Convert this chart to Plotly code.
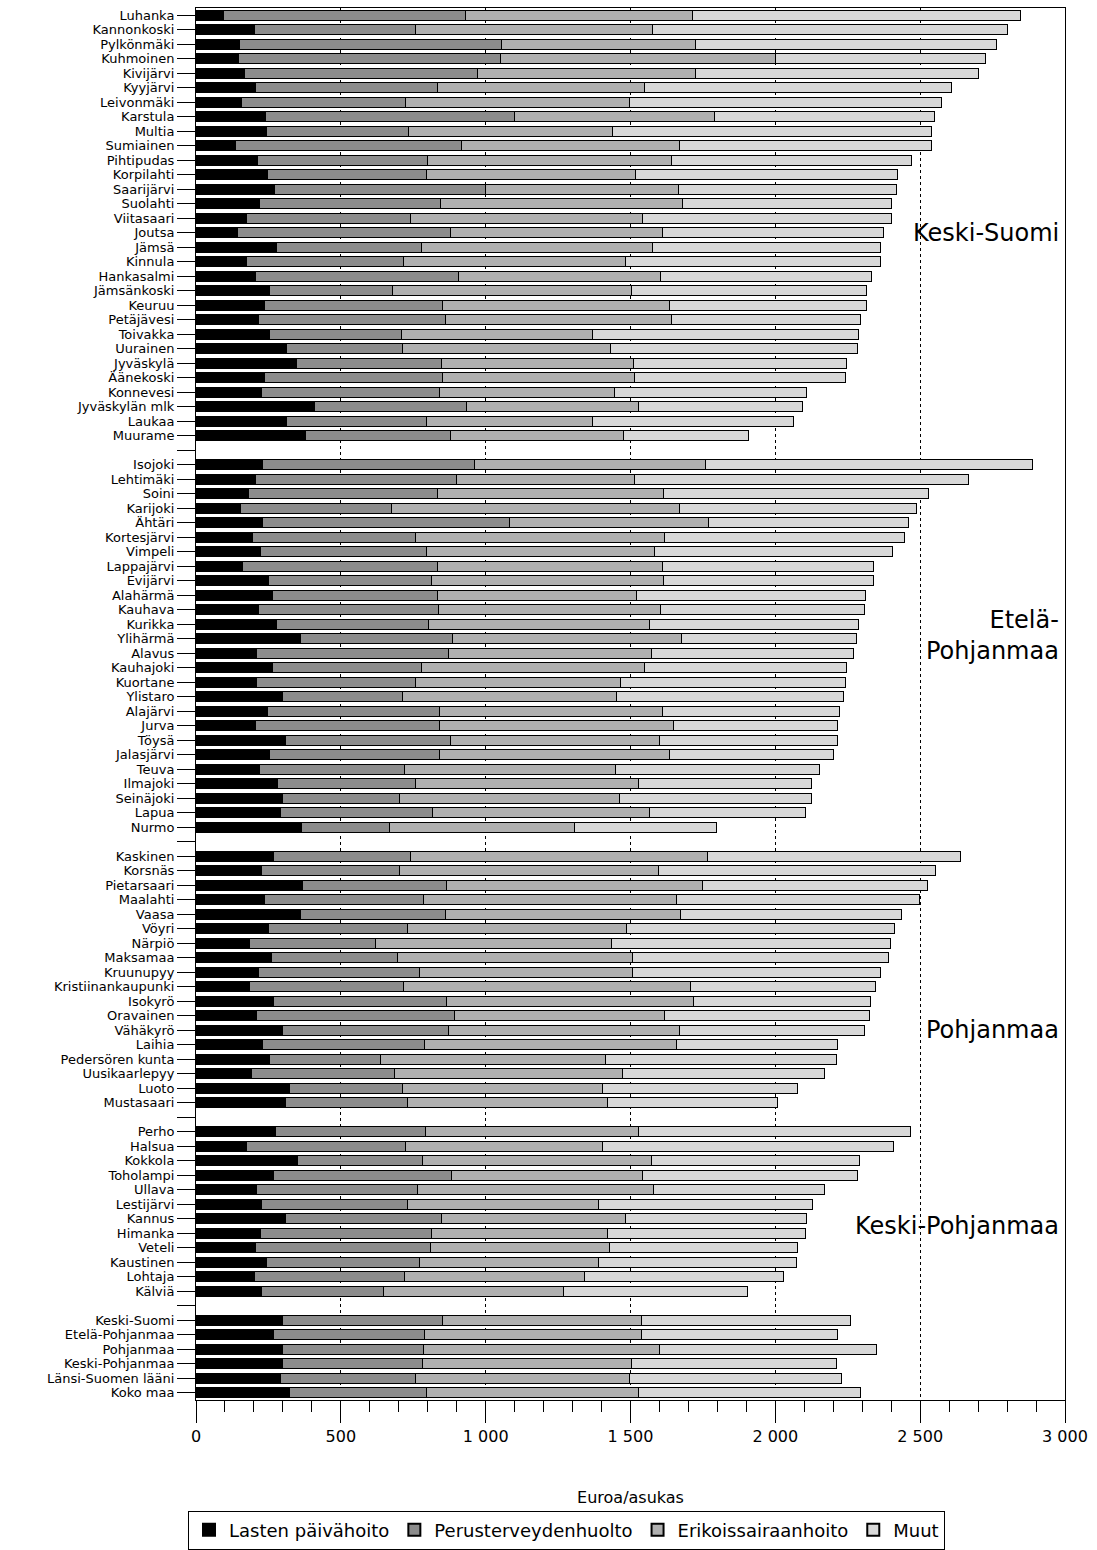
import plotly.graph_objects as go

# ---- data (Euroa/asukas) ----
municipalities = [
    "Luhanka", "Kannonkoski", "Pylkönmäki", "Kuhmoinen", "Kivijärvi", "Kyyjärvi", "Leivonmäki",
    "Karstula", "Multia", "Sumiainen", "Pihtipudas", "Korpilahti", "Saarijärvi", "Suolahti",
    "Viitasaari", "Joutsa", "Jämsä", "Kinnula", "Hankasalmi", "Jämsänkoski", "Keuruu",
    "Petäjävesi", "Toivakka", "Uurainen", "Jyväskylä", "Äänekoski", "Konnevesi",
    "Jyväskylän mlk", "Laukaa", "Muurame",
    " ",
    "Isojoki", "Lehtimäki", "Soini", "Karijoki", "Ähtäri", "Kortesjärvi", "Vimpeli", "Lappajärvi",
    "Evijärvi", "Alahärmä", "Kauhava", "Kurikka", "Ylihärmä", "Alavus", "Kauhajoki", "Kuortane",
    "Ylistaro", "Alajärvi", "Jurva", "Töysä", "Jalasjärvi", "Teuva", "Ilmajoki", "Seinäjoki",
    "Lapua", "Nurmo",
    "  ",
    "Kaskinen", "Korsnäs", "Pietarsaari", "Maalahti", "Vaasa", "Vöyri", "Närpiö", "Maksamaa",
    "Kruunupyy", "Kristiinankaupunki", "Isokyrö", "Oravainen", "Vähäkyrö", "Laihia",
    "Pedersören kunta", "Uusikaarlepyy", "Luoto", "Mustasaari",
    "   ",
    "Perho", "Halsua", "Kokkola", "Toholampi", "Ullava", "Lestijärvi", "Kannus", "Himanka",
    "Veteli", "Kaustinen", "Lohtaja", "Kälviä",
    "    ",
    "Keski-Suomi", "Etelä-Pohjanmaa", "Pohjanmaa", "Keski-Pohjanmaa", "Länsi-Suomen lääni", "Koko maa",
]

lasten_paivahoito = [
    95, 202, 150, 145, 166, 206, 156, 241, 243, 136, 212, 247, 271, 219, 176,
    142, 277, 176, 206, 253, 237, 217, 253, 312, 348, 237, 227, 409, 312, 378,
    None,
    231, 206, 182, 154, 231, 196, 223, 160, 251, 263, 217, 277, 360, 210, 263,
    210, 298, 247, 206, 308, 253, 219, 283, 298, 291, 364,
    None,
    267, 227, 368, 237, 360, 249, 186, 261, 215, 186, 267, 210, 300, 231, 253, 190, 324, 308,
    None,
    273, 176, 352, 267, 210, 227, 308, 221, 206, 243, 202, 227,
    None,
    300, 267, 298, 298, 291, 324,
]

perusterveydenhuolto = [
    834, 555, 904, 905, 806, 628, 567, 858, 492, 779, 587, 550, 729, 625, 565,
    738, 500, 540, 701, 427, 613, 645, 455, 400, 498, 613, 615, 526, 485, 500,
    None,
    730, 695, 652, 522, 850, 563, 572, 674, 563, 569, 619, 526, 526, 660, 514,
    547, 414, 595, 634, 572, 587, 502, 476, 406, 527, 304,
    None,
    472, 475, 496, 548, 500, 480, 433, 435, 556, 530, 597, 683, 572, 558, 385, 496, 388, 421,
    None,
    520, 547, 431, 615, 553, 502, 540, 593, 604, 528, 519, 421,
    None,
    550, 522, 487, 483, 466, 473,
]

erikoissairaanhoito = [
    785, 820, 670, 950, 752, 714, 773, 690, 702, 755, 844, 721, 664, 836, 801,
    729, 800, 766, 696, 822, 785, 781, 662, 719, 666, 664, 603, 593, 573, 599,
    None,
    798, 613, 779, 994, 688, 860, 788, 775, 801, 690, 767, 764, 790, 703, 771,
    710, 741, 767, 810, 719, 793, 726, 769, 759, 749, 637,
    None,
    1026, 895, 885, 873, 814, 757, 816, 810, 737, 990, 854, 724, 798, 871, 775, 787, 693, 692,
    None,
    735, 682, 790, 660, 816, 662, 634, 607, 617, 620, 619, 621,
    None,
    688, 749, 814, 721, 741, 729,
]

muut = [
    1134, 1224, 1039, 724, 978, 1059, 1079, 759, 1103, 870, 828, 903, 753, 720, 858,
    763, 785, 880, 729, 813, 680, 652, 917, 854, 733, 727, 664, 565, 692, 430,
    None,
    1129, 1154, 917, 817, 692, 828, 821, 729, 725, 789, 704, 720, 605, 698, 699,
    774, 784, 613, 564, 615, 567, 707, 597, 662, 538, 492,
    None,
    874, 957, 777, 840, 763, 927, 963, 886, 856, 640, 612, 707, 639, 556, 799, 697, 672, 585,
    None,
    939, 1004, 716, 743, 591, 738, 625, 682, 650, 682, 688, 634,
    None,
    723, 676, 749, 708, 732, 769,
]

series_names = ["Lasten päivähoito", "Perusterveydenhuolto", "Erikoissairaanhoito", "Muut"]
series_values = [lasten_paivahoito, perusterveydenhuolto, erikoissairaanhoito, muut]
series_colors = ["#000000", "#8c8c8c", "#b0b0b0", "#d8d8d8"]

region_labels = ["Keski-Suomi", "Etelä-<br>Pohjanmaa", "Pohjanmaa", "Keski-Pohjanmaa"]
region_anchor_rows = ["Joutsa", "Ylihärmä", "Vähäkyrö", "Kannus"]
region_offsets = [0.0, -0.2, 0.0, 0.5]

x_title = "Euroa/asukas"

FONT = "DejaVu Sans, Liberation Sans, Arial, sans-serif"

# ---- figure ----
fig = go.Figure()
for name, vals, col in zip(series_names, series_values, series_colors):
    fig.add_trace(go.Bar(
        y=municipalities, x=vals, name=name, orientation="h",
        marker=dict(color=col, line=dict(color="black", width=1)),
    ))

for lab, row, off in zip(region_labels, region_anchor_rows, region_offsets):
    fig.add_annotation(
        x=2985, y=municipalities.index(row) + off, xref="x", yref="y",
        text=lab, showarrow=False, xanchor="right", yanchor="middle", align="right",
        font=dict(size=24, color="black", family=FONT),
    )

fig.update_layout(
    width=1097, height=1550,
    margin=dict(l=196, r=32, t=8, b=150, autoexpand=False),
    barmode="stack", bargap=0.3,
    plot_bgcolor="white", paper_bgcolor="white",
    separators=", ",
    font=dict(family=FONT, color="black", size=13),
    legend=dict(
        orientation="h", x=-0.0092, xanchor="left", y=-0.0795, yanchor="top",
        bordercolor="black", borderwidth=1, font=dict(size=18),
        traceorder="normal", itemsizing="constant",
    ),
    showlegend=True,
)

fig.update_xaxes(
    range=[0, 3000], dtick=500, tick0=0, separatethousands=True,
    showline=True, linecolor="black", linewidth=1, mirror=True,
    ticks="outside", ticklen=22, tickcolor="black", tickwidth=1,
    tickfont=dict(size=16),
    showgrid=True, gridcolor="black", griddash="dot", gridwidth=1,
    zeroline=False,
    minor=dict(dtick=100, ticklen=11, ticks="outside", tickcolor="black", showgrid=False),
    title=dict(text=x_title, font=dict(size=16), standoff=46),
    automargin=False,
)

fig.update_yaxes(
    categoryorder="array", categoryarray=municipalities,
    tickmode="array", tickvals=municipalities, ticktext=municipalities,
    range=[len(municipalities) - 0.5, -0.5],
    showline=True, linecolor="black", linewidth=1, mirror=True,
    ticks="outside", ticklen=18, tickcolor="black", tickwidth=1,
    tickfont=dict(size=13), showgrid=False, automargin=False,
)

fig.write_html("out.html", config={"displayModeBar": False},
               post_script="document.body.style.margin='0';")
